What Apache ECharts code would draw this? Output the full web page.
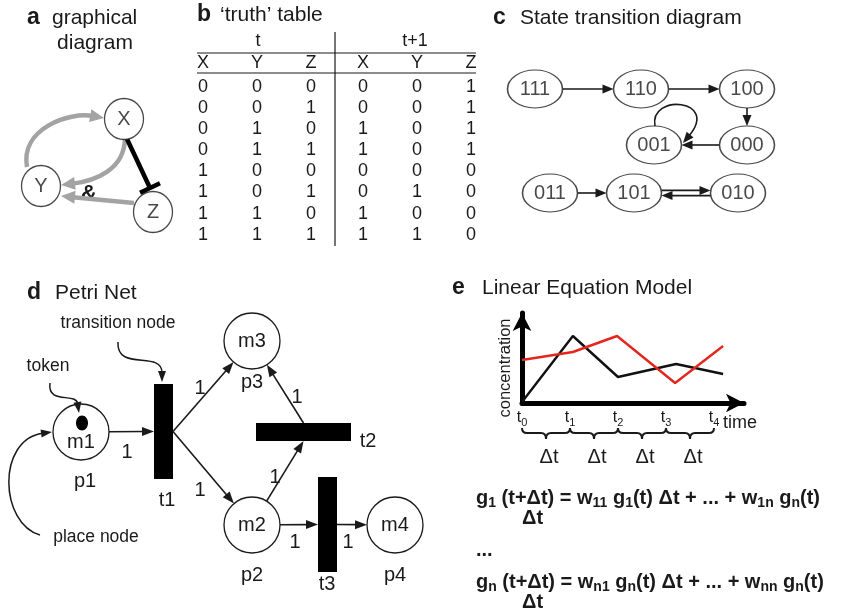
<!DOCTYPE html>
<html>
<head>
<meta charset="utf-8">
<script src="https://cdn.jsdelivr.net/npm/echarts@6/dist/echarts.min.js"></script>
<style>
  html, body { margin: 0; padding: 0; background: #fff; }
  #main { width: 845px; height: 616px; }
</style>
</head>
<body>
<div id="main"></div>
<script>
// ---- data ----
// a: graphical diagram
var gdNodes = ['X', 'Y', 'Z'];
var gdLinks = [
  ['Y', 'X', 'activate'],
  ['X', 'Y', 'activate'],
  ['Z', 'Y', 'activate'],
  ['X', 'Z', 'inhibit']
];

// b: truth table
var ttVars = ['X', 'Y', 'Z'];
var ttNow  = [[0,0,0],[0,0,1],[0,1,0],[0,1,1],[1,0,0],[1,0,1],[1,1,0],[1,1,1]];
var ttNext = [[0,0,1],[0,0,1],[1,0,1],[1,0,1],[0,0,0],[0,1,0],[1,0,0],[1,1,0]];

var stStates = ['111', '110', '100', '001', '000', '011', '101', '010'];

// d: petri net  [place, marking, tokens]
var pnPlaces = [['p1', 'm1', 1], ['p2', 'm2', 0], ['p3', 'm3', 0], ['p4', 'm4', 0]];
var pnTransitions = ['t1', 't2', 't3'];
var pnArcs = [
  ['p1', 't1', 1], ['t1', 'p3', 1], ['t1', 'p2', 1], ['p2', 't2', 1],
  ['t2', 'p3', 1], ['p2', 't3', 1], ['t3', 'p4', 1]
];
var pnNotes = ['transition node', 'token', 'place node'];

// e: linear equation model
var timeTicks = [0, 1, 2, 3, 4];
var geneAx = [0, 1.06, 2.0, 3.21, 4.19];
var geneAy = [1, 67, 26, 39, 29];
var geneBx = [0, 1.06, 1.98, 3.19, 4.19];
var geneBy = [43, 51, 67, 20, 57];
var eqSubs = [['1', '11', '1', '1n', 'n'], ['n', 'n1', 'n', 'nn', 'n']];

// ---- layout ----
var FF = '"Liberation Sans", Arial, Helvetica, sans-serif';
var INK = '#1a1a1a', GREY = '#a3a3a3', RED = '#e3261e';

var gdPos = { X: [124, 119], Y: [41, 186], Z: [153, 212] };
var gdGeom = [
  [[27, 167], [20, 128], [70, 112], [104, 118]],
  [[125, 139], [124, 170], [95, 181], [61, 185]],
  [[134, 203], [61, 196]],
  [[127, 139], [150, 188]]
];
var ttCols = [203, 257, 311, 363, 417, 471];
var ttRowTop = 87, ttRowGap = 21.1;

var stPos = {
  '111': [535, 89], '110': [641, 89], '100': [747, 89],
  '001': [654, 145], '000': [747, 145],
  '011': [550, 193], '101': [634, 193], '010': [738, 193]
};
var stR = [27.5, 19];
var stLoop = [[1, -19], [-5, -52], [66, -46], [29, -2]];

var pnPlacePos = { p1: [81, 432], p2: [252, 525], p3: [252, 341], p4: [395, 525] };
var pnR = 28;
var pnNameOff = { p1: [4, 49], p2: [0, 50], p3: [0, 41], p4: [0, 50] };
var pnTransRect = { t1: [154, 384, 19, 95], t2: [256, 423, 95, 18], t3: [318, 477, 19, 95] };
var pnTransLabel = { t1: [167, 500], t2: [368, 441], t3: [327, 584] };
var pnArcLabel = [[127, 452], [200, 388], [200, 490], [275, 477], [297, 397], [295, 542], [348, 542]];
var pnNoteText = [[118, 323], [48, 366], [96, 537]];
var pnNoteCurve = [
  [[118, 342], [116, 372], [162, 350], [162, 382]],
  [[50, 383], [47, 405], [76, 392], [79, 413]],
  [[40, 535], [0, 524], [-4, 440], [52, 432]]
];

// ---- helpers ----
function txt(p, s, size, opt) {
  opt = opt || {};
  var a = opt.align || 'center';
  return {
    type: 'text',
    style: {
      text: s, x: p[0], y: p[1], fontSize: size, fontFamily: FF,
      fontWeight: opt.bold ? 'bold' : 'normal', fill: opt.fill || INK,
      align: a, verticalAlign: 'middle', textAlign: a, textVerticalAlign: 'middle'
    }
  };
}
function head(tip, from, len, wid, color) {
  var dx = tip[0] - from[0], dy = tip[1] - from[1], d = Math.sqrt(dx * dx + dy * dy) || 1;
  var ux = dx / d, uy = dy / d, bx = tip[0] - ux * len, by = tip[1] - uy * len;
  return {
    type: 'polygon',
    shape: { points: [[tip[0], tip[1]], [bx - uy * wid / 2, by + ux * wid / 2], [bx + uy * wid / 2, by - ux * wid / 2]] },
    style: { fill: color }
  };
}
function back(from, tip, by) {
  var dx = tip[0] - from[0], dy = tip[1] - from[1], d = Math.sqrt(dx * dx + dy * dy) || 1;
  return [tip[0] - dx / d * by, tip[1] - dy / d * by];
}
function arrowLine(p0, p1, color, w, len, wid) {
  var b = back(p0, p1, len * 0.85);
  return [
    { type: 'line', shape: { x1: p0[0], y1: p0[1], x2: b[0], y2: b[1] }, style: { stroke: color, lineWidth: w, fill: 'none' } },
    head(p1, p0, len, wid, color)
  ];
}
function arrowCurve(g, color, w, len, wid) {
  var b = back(g[2], g[3], len * 0.85);
  return [
    { type: 'bezierCurve',
      shape: { x1: g[0][0], y1: g[0][1], cpx1: g[1][0], cpy1: g[1][1], cpx2: g[2][0], cpy2: g[2][1], x2: b[0], y2: b[1] },
      style: { stroke: color, lineWidth: w, fill: 'none' } },
    head(g[3], g[2], len, wid, color)
  ];
}
function ellipseEdge(c, dir, r) {
  var t = 1 / Math.sqrt(Math.pow(dir[0] / r[0], 2) + Math.pow(dir[1] / r[1], 2));
  return [c[0] + dir[0] * t, c[1] + dir[1] * t];
}
function unit(a, b) {
  var dx = b[0] - a[0], dy = b[1] - a[1], d = Math.sqrt(dx * dx + dy * dy) || 1;
  return [dx / d, dy / d];
}
function transAnchor(t, toward) {
  var r = pnTransRect[t], cx = r[0] + r[2] / 2, cy = r[1] + r[3] / 2;
  if (r[3] > r[2]) return [toward[0] > cx ? r[0] + r[2] : r[0], cy];
  return [cx, toward[1] > cy ? r[1] + r[3] : r[1]];
}
function pnEnds(arc) {
  var a = arc[0], b = arc[1], s, e;
  if (pnPlacePos[a]) {
    e = transAnchor(b, pnPlacePos[a]);
    s = ellipseEdge(pnPlacePos[a], unit(pnPlacePos[a], e), [pnR, pnR]);
  } else {
    s = transAnchor(a, pnPlacePos[b]);
    e = ellipseEdge(pnPlacePos[b], unit(pnPlacePos[b], s), [pnR, pnR]);
  }
  return [s, e];
}

var stLinks = ttNow.map(function (r, i) { return [r.join(''), ttNext[i].join('')]; });

function eqText(s) {
  return '{b|g}{s|' + s[0] + '}{b| (t+Δt) = w}{s|' + s[1] + '}{b| g}{s|' + s[2] +
    '}{b|(t) Δt + ... + w}{s|' + s[3] + '}{b| g}{s|' + s[4] + '}{b|(t)}';
}
var eqRich = {
  b: { fontSize: 20, fontWeight: 'bold', fontFamily: FF, fill: INK, lineHeight: 24 },
  s: { fontSize: 14, fontWeight: 'bold', fontFamily: FF, fill: INK, lineHeight: 14, verticalAlign: 'bottom' }
};
function richText(x, y, s) {
  return { type: 'text', style: { text: s, x: x, y: y, rich: eqRich, align: 'left', verticalAlign: 'middle', textAlign: 'left', textVerticalAlign: 'middle' } };
}
function gtxt(x, y, s, size, bold, align) {
  var a = align || 'left';
  return { type: 'text', style: { text: s, x: x, y: y, fontSize: size, fontFamily: FF, fontWeight: bold ? 'bold' : 'normal',
    fill: INK, align: a, verticalAlign: 'middle', textAlign: a, textVerticalAlign: 'middle' } };
}

var graphics = [
  gtxt(27, 18, 'a', 23, true), gtxt(52, 18, 'graphical', 21), gtxt(95, 43, 'diagram', 21, false, 'center'),
  gtxt(89, 194, '&', 22, true, 'center'),
  gtxt(197, 15, 'b', 23, true), gtxt(220, 15, '‘truth’ table', 21),
  gtxt(258, 41, 't', 18, false, 'center'), gtxt(415, 41, 't+1', 18, false, 'center'),
  gtxt(493, 18, 'c', 23, true), gtxt(520, 18, 'State transition diagram', 21),
  gtxt(27, 293, 'd', 23, true), gtxt(55, 293, 'Petri Net', 21),
  gtxt(452, 288, 'e', 23, true), gtxt(482, 288, 'Linear Equation Model', 21),
  gtxt(723, 423, 'time', 18),
  richText(476, 498, eqText(eqSubs[0])), gtxt(522, 518, 'Δt', 20, true),
  gtxt(476, 550, '...', 20, true),
  richText(476, 582, eqText(eqSubs[1])), gtxt(522, 602, 'Δt', 20, true),
  { type: 'line', shape: { x1: 197, y1: 53, x2: 476, y2: 53 }, style: { stroke: INK, lineWidth: 1.2 } },
  { type: 'line', shape: { x1: 197, y1: 73, x2: 476, y2: 73 }, style: { stroke: INK, lineWidth: 1.2 } },
  { type: 'line', shape: { x1: 335, y1: 32, x2: 335, y2: 246 }, style: { stroke: INK, lineWidth: 1.2 } }
];
ttVars.concat(ttVars).forEach(function (v, j) {
  graphics.push(gtxt(ttCols[j], 63, v, 18, false, 'center'));
});

var chart = echarts.init(document.getElementById('main'));
var option = {
  animation: false,
  backgroundColor: '#fff',
  grid: [
    { left: 0, top: 0, right: 0, bottom: 0 },
    { left: 522, top: 313, width: 222, height: 90 }
  ],
  xAxis: [
    { type: 'value', gridIndex: 0, min: 0, max: 845, show: false },
    { type: 'value', gridIndex: 1, min: 0, max: 4.625, interval: 1,
      axisLine: { show: true, onZero: false, lineStyle: { color: '#000', width: 5 }, symbol: ['none', 'arrow'], symbolSize: [14, 18] },
      axisTick: { show: false }, splitLine: { show: false },
      axisLabel: {
        margin: 5, showMaxLabel: false,
        formatter: function (v) { return timeTicks.indexOf(v) < 0 ? '' : '{a|t}{s|' + v + '}'; },
        rich: {
          a: { fontSize: 16, color: INK, fontFamily: FF, lineHeight: 20 },
          s: { fontSize: 11, color: INK, fontFamily: FF, lineHeight: 10, verticalAlign: 'bottom' }
        }
      }
    }
  ],
  yAxis: [
    { type: 'value', gridIndex: 0, min: 0, max: 616, inverse: true, show: false },
    { type: 'value', gridIndex: 1, min: 0, max: 90,
      axisLine: { show: true, onZero: false, lineStyle: { color: '#000', width: 5 }, symbol: ['none', 'arrow'], symbolSize: [14, 18] },
      axisTick: { show: false }, splitLine: { show: false }, axisLabel: { show: false },
      name: 'concentration', nameLocation: 'middle', nameGap: 8,
      nameTextStyle: { fontSize: 16.5, color: INK, fontFamily: FF, padding: [0, 20, 0, 0] }
    }
  ],
  graphic: graphics,
  series: [
    // a: links
    { type: 'custom', xAxisIndex: 0, yAxisIndex: 0, clip: false,
      data: gdLinks.map(function (l) { return gdPos[l[0]]; }),
      renderItem: function (params, api) {
        var i = params.dataIndex;
        var g = gdGeom[i].map(function (p) { return api.coord(p); });
        if (gdLinks[i][2] === 'inhibit') {
          var u = unit(g[0], g[1]), h = 11;
          return { type: 'group', children: [
            { type: 'line', shape: { x1: g[0][0], y1: g[0][1], x2: g[1][0], y2: g[1][1] }, style: { stroke: '#000', lineWidth: 4.5 } },
            { type: 'line', shape: { x1: g[1][0] - u[1] * h, y1: g[1][1] + u[0] * h, x2: g[1][0] + u[1] * h, y2: g[1][1] - u[0] * h }, style: { stroke: '#000', lineWidth: 4.5 } }
          ] };
        }
        var kids = g.length === 4 ? arrowCurve(g, GREY, 4.5, 14, 13) : arrowLine(g[0], g[1], GREY, 4.5, 14, 13);
        return { type: 'group', children: kids };
      }
    },
    // a: nodes
    { type: 'scatter', xAxisIndex: 0, yAxisIndex: 0, symbol: 'circle', symbolSize: [39, 41],
      itemStyle: { color: '#fff', borderColor: INK, borderWidth: 1.3 },
      label: { show: true, position: 'inside', fontSize: 20, color: INK, fontFamily: FF, formatter: function (p) { return p.value[2]; } },
      data: gdNodes.map(function (n) { return gdPos[n].concat(n); })
    },
    // b: table cells
    { type: 'custom', xAxisIndex: 0, yAxisIndex: 0, clip: false,
      data: ttNow.map(function (r, i) { return [ttCols[0], ttRowTop + i * ttRowGap]; }),
      renderItem: function (params, api) {
        var i = params.dataIndex, vals = ttNow[i].concat(ttNext[i]), kids = [];
        for (var j = 0; j < vals.length; j++) {
          kids.push(txt(api.coord([ttCols[j], ttRowTop + i * ttRowGap]), String(vals[j]), 18));
        }
        return { type: 'group', children: kids };
      }
    },
    // c: transitions
    { type: 'custom', xAxisIndex: 0, yAxisIndex: 0, clip: false,
      data: stLinks.map(function (l) { return stPos[l[0]]; }),
      renderItem: function (params, api) {
        var l = stLinks[params.dataIndex], a = stPos[l[0]], b = stPos[l[1]];
        if (l[0] === l[1]) {
          var g = stLoop.map(function (o) { return api.coord([a[0] + o[0], a[1] + o[1]]); });
          return { type: 'group', children: arrowCurve(g, INK, 1.6, 11, 9) };
        }
        var u = unit(a, b), s = ellipseEdge(a, u, stR), e = ellipseEdge(b, [-u[0], -u[1]], stR);
        var twoWay = stLinks.some(function (m) { return m[0] === l[1] && m[1] === l[0]; });
        if (twoWay) {
          var off = 2.6;
          s = [s[0] + u[1] * off, s[1] - u[0] * off];
          e = [e[0] + u[1] * off, e[1] - u[0] * off];
        }
        return { type: 'group', children: arrowLine(api.coord(s), api.coord(e), INK, 1.6, 11, 9) };
      }
    },
    // c: states
    { type: 'scatter', xAxisIndex: 0, yAxisIndex: 0, symbol: 'circle', symbolSize: [stR[0] * 2, stR[1] * 2],
      itemStyle: { color: '#fff', borderColor: INK, borderWidth: 1.3 },
      label: { show: true, position: 'inside', fontSize: 20, color: INK, fontFamily: FF, formatter: function (p) { return p.value[2]; } },
      data: stStates.map(function (s) { return stPos[s].concat(s); })
    },
    // d: arcs
    { type: 'custom', xAxisIndex: 0, yAxisIndex: 0, clip: false,
      data: pnArcs.map(function (a, i) { return pnArcLabel[i]; }),
      renderItem: function (params, api) {
        var i = params.dataIndex, ends = pnEnds(pnArcs[i]);
        var kids = arrowLine(api.coord(ends[0]), api.coord(ends[1]), INK, 1.6, 12, 9);
        kids.push(txt(api.coord(pnArcLabel[i]), String(pnArcs[i][2]), 20));
        return { type: 'group', children: kids };
      }
    },
    // d: places
    { type: 'custom', xAxisIndex: 0, yAxisIndex: 0, clip: false,
      data: pnPlaces.map(function (p) { return pnPlacePos[p[0]]; }),
      renderItem: function (params, api) {
        var p = pnPlaces[params.dataIndex], c = pnPlacePos[p[0]], cc = api.coord(c), o = pnNameOff[p[0]];
        var kids = [
          { type: 'circle', shape: { cx: cc[0], cy: cc[1], r: pnR }, style: { fill: '#fff', stroke: INK, lineWidth: 1.3 } }
        ];
        if (p[2] > 0) {
          var tk = api.coord([c[0] + 1, c[1] - 9]);
          kids.push({ type: 'ellipse', shape: { cx: tk[0], cy: tk[1], rx: 6, ry: 7.5 }, style: { fill: '#000' } });
          kids.push(txt(api.coord([c[0], c[1] + 10]), p[1], 20));
        } else {
          kids.push(txt(cc, p[1], 20));
        }
        kids.push(txt(api.coord([c[0] + o[0], c[1] + o[1]]), p[0], 20));
        return { type: 'group', children: kids };
      }
    },
    // d: transitions
    { type: 'custom', xAxisIndex: 0, yAxisIndex: 0, clip: false,
      data: pnTransitions.map(function (t) { return pnTransRect[t].slice(0, 2); }),
      renderItem: function (params, api) {
        var t = pnTransitions[params.dataIndex], r = pnTransRect[t];
        var p0 = api.coord([r[0], r[1]]), p1 = api.coord([r[0] + r[2], r[1] + r[3]]);
        return { type: 'group', children: [
          { type: 'rect', shape: { x: p0[0], y: p0[1], width: p1[0] - p0[0], height: p1[1] - p0[1] }, style: { fill: '#000' } },
          txt(api.coord(pnTransLabel[t]), t, 20)
        ] };
      }
    },
    // d: notes
    { type: 'custom', xAxisIndex: 0, yAxisIndex: 0, clip: false,
      data: pnNotes.map(function (n, i) { return pnNoteText[i]; }),
      renderItem: function (params, api) {
        var i = params.dataIndex;
        var g = pnNoteCurve[i].map(function (p) { return api.coord(p); });
        var kids = arrowCurve(g, INK, 1.5, 11, 8);
        kids.push(txt(api.coord(pnNoteText[i]), pnNotes[i], 17.5));
        return { type: 'group', children: kids };
      }
    },
    // e: concentrations
    { type: 'line', xAxisIndex: 1, yAxisIndex: 1, showSymbol: false, z: 3,
      lineStyle: { color: '#111', width: 2.4 },
      data: geneAx.map(function (x, i) { return [x, geneAy[i]]; })
    },
    { type: 'line', xAxisIndex: 1, yAxisIndex: 1, showSymbol: false, z: 4,
      lineStyle: { color: RED, width: 2.4 },
      data: geneBx.map(function (x, i) { return [x, geneBy[i]]; })
    },
    // e: time steps
    { type: 'custom', xAxisIndex: 1, yAxisIndex: 1, clip: false,
      data: timeTicks.slice(0, -1).map(function (t, i) { return [t, timeTicks[i + 1]]; }),
      renderItem: function (params, api) {
        var a = api.coord([api.value(0), 0]), b = api.coord([api.value(1), 0]);
        var x0 = a[0], x1 = b[0], xm = (x0 + x1) / 2, y0 = a[1] + 25, y1 = a[1] + 30, y2 = a[1] + 36;
        var d = 'M' + x0 + ' ' + y0 + ' Q' + x0 + ' ' + y1 + ' ' + (x0 + 5) + ' ' + y1 +
          ' L' + (xm - 5) + ' ' + y1 + ' Q' + xm + ' ' + y1 + ' ' + xm + ' ' + y2 +
          ' Q' + xm + ' ' + y1 + ' ' + (xm + 5) + ' ' + y1 +
          ' L' + (x1 - 5) + ' ' + y1 + ' Q' + x1 + ' ' + y1 + ' ' + x1 + ' ' + y0;
        return { type: 'group', children: [
          { type: 'path', shape: { pathData: d }, style: { stroke: INK, lineWidth: 2, fill: 'none' } },
          txt([xm + 3, a[1] + 54], 'Δt', 20)
        ] };
      }
    }
  ]
};
chart.setOption(option);
</script>
</body>
</html>
